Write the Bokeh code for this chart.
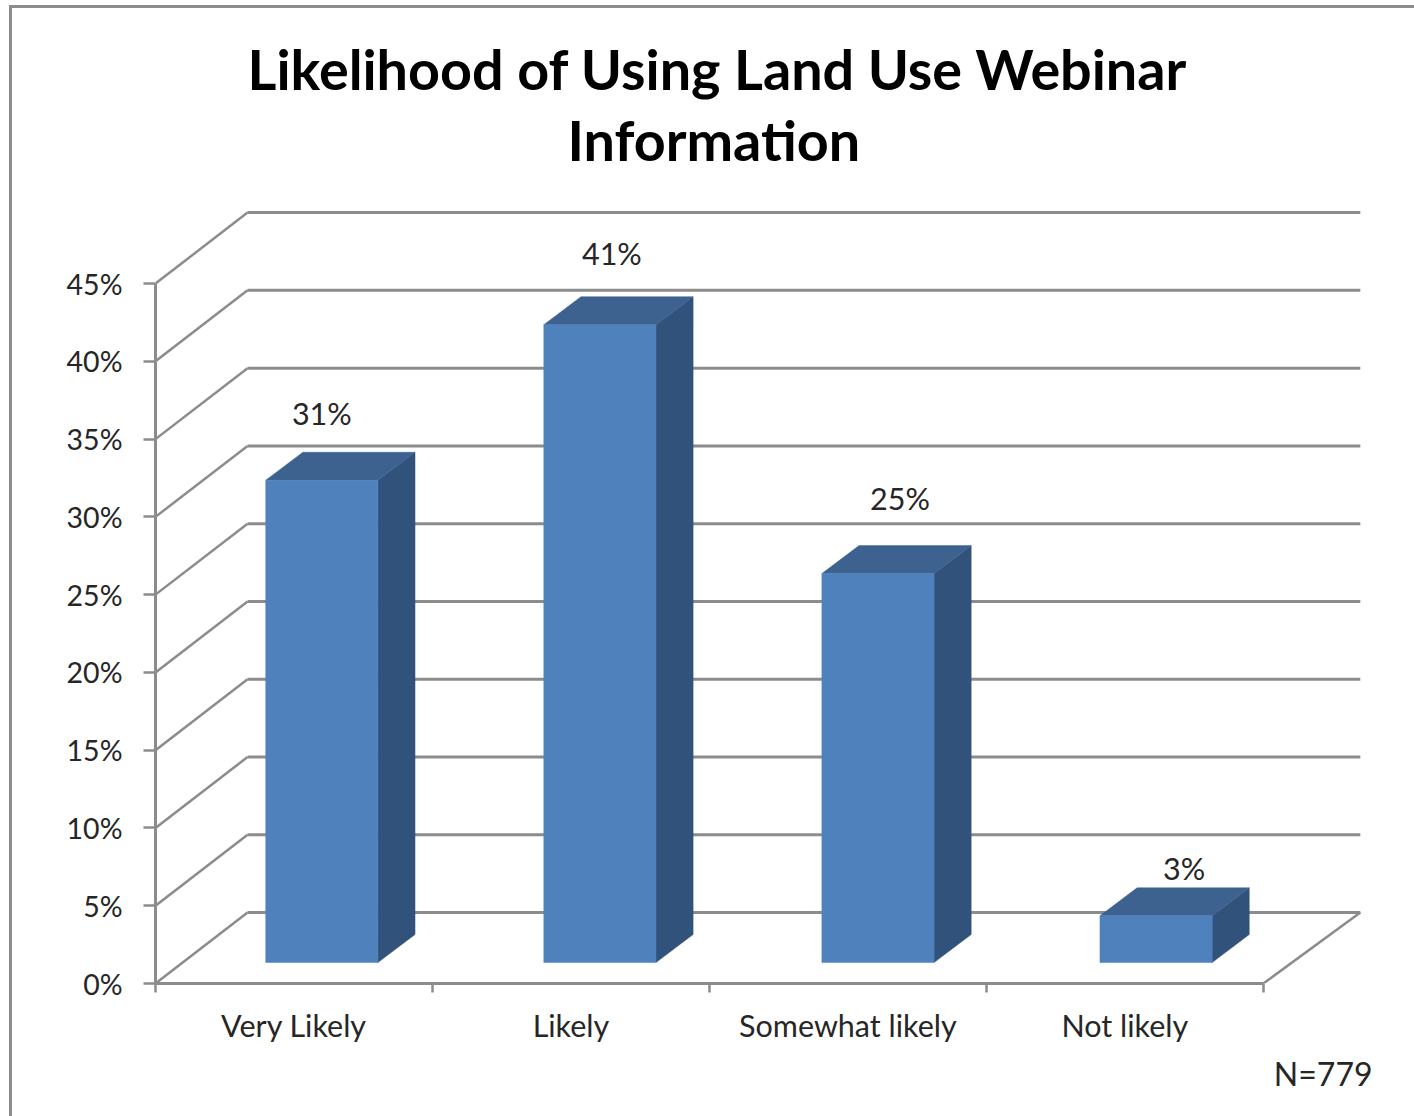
from bokeh.plotting import figure
from bokeh.embed import file_html
from bokeh.resources import INLINE
from bokeh.models import Range1d, FixedTicker, Title, ColumnDataSource
from bokeh.core.properties import value

categories = ["Very Likely", "Likely", "Somewhat likely", "Not likely"]
percent = [31, 41, 25, 3]
y_ticks = [0, 5, 10, 15, 20, 25, 30, 35, 40, 45]
title_line_1 = "Likelihood of Using Land Use Webinar"
title_line_2 = "Information"
note_text = "N=779"

FONT = "Lato"
GRAY = "#8c8c8c"
TXT = "#262626"
FRONT, TOP, SIDE = "#4f81bd", "#3e6290", "#31527a"

# projection of the pseudo-3D box, in data units
WALL_DX, WALL_DX_R, WALL_DY = 0.3324, 0.350, 4.56
BAR_LEFT, BAR_W, BAR_PITCH = 0.398, 0.405, 1.004
BAR_BASE, BAR_DX, BAR_DY = 1.35, 0.134, 1.8

p = figure(width=1405, height=1111, output_backend="svg", toolbar_location=None,
           x_range=Range1d(0, 4.394), y_range=Range1d(0, 50.98),
           min_border_left=143, min_border_right=45, min_border_top=182, min_border_bottom=136,
           margin=(5, 0, 0, 9), outline_line_color=None, background_fill_color="white")
p.styles = {"border-left": f"3px solid {GRAY}", "border-top": f"3px solid {GRAY}"}
p.grid.visible = False

n = len(categories)
# back wall, side wall and floor
p.multi_line(xs=[[WALL_DX, n + WALL_DX_R] for _ in y_ticks],
             ys=[[t + WALL_DY, t + WALL_DY] for t in y_ticks],
             line_color=GRAY, line_width=3)
p.multi_line(xs=[[0, WALL_DX] for _ in y_ticks] + [[n, n + WALL_DX_R]],
             ys=[[t, t + WALL_DY] for t in y_ticks] + [[0, WALL_DY]],
             line_color=GRAY, line_width=2.5)

# bars
lefts = [BAR_LEFT + i * BAR_PITCH for i in range(n)]
rights = [l + BAR_W for l in lefts]
tops = [BAR_BASE + v for v in percent]
p.patches(xs=[[r, r + BAR_DX, r + BAR_DX, r] for r in rights],
          ys=[[BAR_BASE, BAR_BASE + BAR_DY, t + BAR_DY, t] for t in tops],
          fill_color=SIDE, line_color=SIDE, line_width=0.5)
p.patches(xs=[[l, l + BAR_DX, r + BAR_DX, r] for l, r in zip(lefts, rights)],
          ys=[[t, t + BAR_DY, t + BAR_DY, t] for t in tops],
          fill_color=TOP, line_color=TOP, line_width=0.5)
p.quad(left=lefts, right=rights, bottom=[BAR_BASE] * n, top=tops,
       fill_color=FRONT, line_color=FRONT, line_width=0.5)

# data labels (hand-placed in the source chart, hence the pixel nudges)
label_dx = [0, 12, 22, 28]
label_dy = [-67, -72, -76, -48]
src = ColumnDataSource(dict(x=[l + BAR_W / 2 for l in lefts], y=tops,
                            t=[f"{v}%" for v in percent], dx=label_dx, dy=label_dy))
p.text(x="x", y="y", text="t", x_offset="dx", y_offset="dy", source=src,
       text_font=value(FONT), text_font_size="30.5px", text_color=TXT,
       text_align="center", text_baseline="middle")

# axes
ya = p.yaxis[0]
ya.ticker = FixedTicker(ticks=y_ticks)
ya.bounds = (0, 45)
ya.major_label_overrides = {t: f"{t}%" for t in y_ticks}
ya.major_tick_out, ya.major_tick_in = 12, 0
ya.minor_tick_line_color = None
ya.axis_line_color = ya.major_tick_line_color = GRAY
ya.axis_line_width = 3
ya.major_tick_line_width = 2.5
ya.major_label_text_font = FONT
ya.major_label_text_font_size = "28.5px"
ya.major_label_text_color = TXT
ya.major_label_standoff = 21

xa = p.xaxis[0]
centers = [i + 0.5 for i in range(n)]
xa.ticker = FixedTicker(ticks=centers, minor_ticks=list(range(n + 1)))
xa.bounds = (0, n)
xa.major_label_overrides = {c: s for c, s in zip(centers, categories)}
xa.major_tick_line_color = None
xa.major_tick_out, xa.major_tick_in = 0, 0
xa.minor_tick_out, xa.minor_tick_in = 9, 0
xa.minor_tick_line_color = GRAY
xa.minor_tick_line_width = 2.5
xa.axis_line_color = GRAY
xa.axis_line_width = 3
xa.major_label_text_font = FONT
xa.major_label_text_font_size = "30.5px"
xa.major_label_text_color = TXT
xa.major_label_standoff = 14

# two-line title: nearest the plot goes in first
for line, off, gap in ((title_line_2, 412, 36), (title_line_1, 92, -32)):
    p.add_layout(Title(text=line, align="left", offset=off, text_font=FONT,
                       text_font_size="55.7px", text_font_style="bold", text_color="black",
                       standoff=gap), "above")

p.add_layout(Title(text=note_text, align="right", offset=0, text_font=FONT,
                   text_font_size="32px", text_font_style="normal", text_color=TXT,
                   standoff=12), "below")

open("out.html", "w").write(file_html(p, INLINE))
